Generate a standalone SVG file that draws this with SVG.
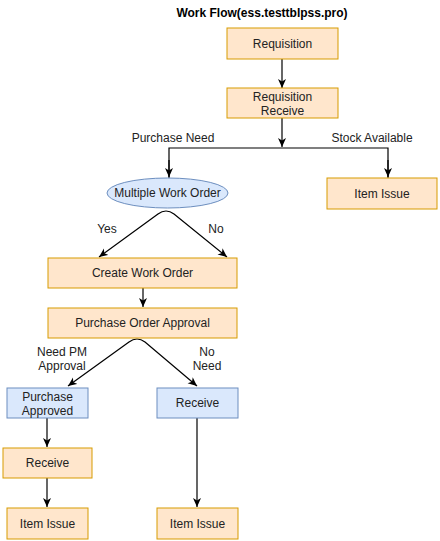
<svg xmlns="http://www.w3.org/2000/svg" width="440" height="541" viewBox="0 0 440 541">
<style>
text{font-family:"Liberation Sans",Arial,sans-serif;font-size:12px;fill:#222;text-anchor:middle}
.title{font-weight:bold;fill:#000}
.o{fill:#ffe6cc;stroke:#d79b00;stroke-width:1}
.b{fill:#dae8fc;stroke:#6c8ebf;stroke-width:1}
.e{fill:none;stroke:#000;stroke-width:1.2}
</style>
<defs>
<marker id="ah" markerUnits="userSpaceOnUse" markerWidth="10" markerHeight="10" refX="9" refY="4" orient="auto">
<path d="M0,0 L9,4 L0,8 L2.5,4 z" fill="#000"/>
</marker>
</defs>
<rect width="440" height="541" fill="#fff"/>
<text class="title" x="262" y="17">Work Flow(ess.testtblpss.pro)</text>
<g id="connectors">
<path class="e" d="M282,59 V88" marker-end="url(#ah)"/>
<path class="e" d="M282,118 V147" marker-end="url(#ah)"/>
<path class="e" d="M169,178 V148 H388 V178"/>
<path class="e" d="M169,160 V177" marker-end="url(#ah)"/>
<path class="e" d="M388,160 V177" marker-end="url(#ah)"/>
<path class="e" d="M166,211 Q162,211 158,214 L99,257" marker-end="url(#ah)"/>
<path class="e" d="M166,211 Q170,211 174,214 L227,257" marker-end="url(#ah)"/>
<path class="e" d="M143,288 V307" marker-end="url(#ah)"/>
<path class="e" d="M137,339 Q133,339 129,342 L68,386" marker-end="url(#ah)"/>
<path class="e" d="M137,339 Q141,339 145,342 L197,386" marker-end="url(#ah)"/>
<path class="e" d="M47,418 V447" marker-end="url(#ah)"/>
<path class="e" d="M47,478 V507" marker-end="url(#ah)"/>
<path class="e" d="M197,418 V507" marker-end="url(#ah)"/>
<text x="173" y="142">Purchase Need</text>
<text x="372" y="142">Stock Available</text>
<text x="107" y="233">Yes</text>
<text x="216" y="233">No</text>
<text x="62" y="356">Need PM</text>
<text x="62" y="370">Approval</text>
<text x="207" y="356">No</text>
<text x="207" y="370">Need</text>
</g>
<g id="requisition"><rect class="o" x="227" y="28" width="111" height="31"/><text x="282.5" y="48">Requisition</text></g>
<g id="requisition-receive"><rect class="o" x="227" y="88" width="111" height="30"/><text x="282.5" y="101">Requisition</text><text x="282.5" y="115">Receive</text></g>
<g id="multiple-work-order"><ellipse class="b" cx="167.5" cy="193" rx="60.5" ry="15"/><text x="167.5" y="197">Multiple Work Order</text></g>
<g id="item-issue-stock"><rect class="o" x="327" y="178" width="110" height="31"/><text x="382" y="198">Item Issue</text></g>
<g id="create-work-order"><rect class="o" x="48" y="258" width="189" height="30"/><text x="142.5" y="277">Create Work Order</text></g>
<g id="purchase-order-approval"><rect class="o" x="48" y="308" width="189" height="30"/><text x="142.5" y="327">Purchase Order Approval</text></g>
<g id="purchase-approved"><rect class="b" x="7" y="388" width="81" height="30"/><text x="47.5" y="401">Purchase</text><text x="47.5" y="415">Approved</text></g>
<g id="receive-blue"><rect class="b" x="157" y="388" width="81" height="30"/><text x="197.5" y="407">Receive</text></g>
<g id="receive-orange"><rect class="o" x="3" y="448" width="89" height="30"/><text x="47.5" y="467">Receive</text></g>
<g id="item-issue-left"><rect class="o" x="7" y="508" width="81" height="31"/><text x="47.5" y="528">Item Issue</text></g>
<g id="item-issue-right"><rect class="o" x="157" y="508" width="81" height="31"/><text x="197.5" y="528">Item Issue</text></g>
</svg>
